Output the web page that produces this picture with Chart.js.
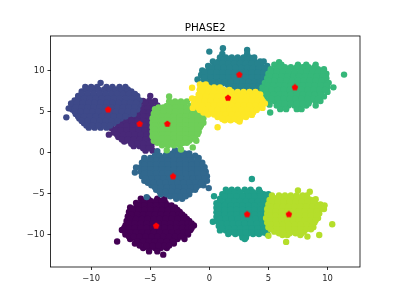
<!DOCTYPE html>
<html><head><meta charset="utf-8">
<style>html,body{margin:0;padding:0;background:#fff}canvas{display:block}</style>
<script src="https://cdn.jsdelivr.net/npm/chart.js@4"></script>
</head><body><canvas id="c" width="400" height="300"></canvas>
<script>
// Each row: [y, x, x, x ...]
const cluster0 = [
[-5.6,-5.8,-5.2,-4.4,-3.8],
[-6.1,-6.2,-5.7,-5.2,-4.7,-4.2,-3.7],
[-6.65,-6.7,-6.2,-5.7,-5.2,-4.7,-4.2,-3.7,-3.2,-2.9],
[-7.2,-6.8,-6.3,-5.8,-5.3,-4.8,-4.3,-3.8,-3.3,-2.8,-2.5],
[-7.75,-6.9,-6.4,-5.9,-5.4,-4.9,-4.4,-3.9,-3.4,-2.9,-2.4,-2.1],
[-8.3,-7.0,-6.5,-6.0,-5.5,-5.0,-4.5,-4.0,-3.5,-3.0,-2.5,-2.0,-1.7],
[-8.85,-7.1,-6.6,-6.1,-5.6,-5.1,-4.6,-4.1,-3.6,-3.1,-2.6,-2.1,-1.6,-1.3],
[-9.4,-7.4,-6.9,-6.4,-5.9,-5.4,-4.9,-4.4,-3.9,-3.4,-2.9,-2.4,-1.9,-1.6],
[-9.95,-7.1,-6.6,-6.1,-5.6,-5.1,-4.6,-4.1,-3.6,-3.1,-2.6,-2.1,-1.8],
[-10.5,-6.7,-6.2,-5.7,-5.2,-4.7,-4.2,-3.7,-3.2,-2.7,-2.1],
[-11.05,-6.3,-5.9,-5.4,-4.9,-4.4,-3.9,-3.4,-3.0],
[-11.6,-5.6,-5.1,-4.6,-4.1,-3.6],
[-12.0,-5.1,-4.4],
[-10.8,-7.8],[-12.4,-3.9],
[-5.85,-5.5,-5.0,-4.5,-4.0],
[-6.4,-6.0,-5.5,-5.0,-4.5,-4.0,-3.5,-3.2],
[-6.95,-6.5,-6.0,-5.5,-5.0,-4.5,-4.0,-3.5,-3.0,-2.7],
[-7.5,-6.6,-6.1,-5.6,-5.1,-4.6,-4.1,-3.6,-3.1,-2.6,-2.3],
[-8.05,-6.7,-6.2,-5.7,-5.2,-4.7,-4.2,-3.7,-3.2,-2.7,-2.2,-1.9],
[-8.6,-6.8,-6.3,-5.8,-5.3,-4.8,-4.3,-3.8,-3.3,-2.8,-2.3,-1.8,-1.5],
[-9.15,-7.2,-6.8,-6.3,-5.8,-5.3,-4.8,-4.3,-3.8,-3.3,-2.8,-2.3,-1.8,-1.5],
[-9.7,-7.1,-6.7,-6.2,-5.7,-5.2,-4.7,-4.2,-3.7,-3.2,-2.7,-2.2,-1.8],
[-10.2,-6.8,-6.4,-5.9,-5.4,-4.9,-4.4,-3.9,-3.4,-2.9,-2.4],
[-10.8,-6.1,-5.6,-5.1,-4.6,-4.1,-3.6,-3.1],
[-11.3,-5.9,-5.3,-4.8,-4.3,-3.8,-3.4]
];
const cluster1 = [
[6.9,-5.0],
[6.3,-5.6,-5.1,-4.6],
[5.75,-5.9,-5.4,-4.9,-4.4],
[5.2,-6.4,-5.9,-5.4,-4.9,-4.4],
[4.65,-6.8,-6.3,-5.8,-5.3,-4.8,-4.3],
[4.1,-7.4,-6.9,-6.4,-5.9,-5.4,-4.9,-4.4],
[3.55,-7.8,-7.3,-6.8,-6.3,-5.8,-5.3,-4.8,-4.3],
[3.0,-8.3,-7.8,-7.3,-6.8,-6.3,-5.8,-5.3,-4.8,-4.3],
[2.45,-8.1,-7.6,-7.1,-6.6,-6.1,-5.6,-5.1,-4.6],
[1.9,-7.7,-7.2,-6.7,-6.2,-5.7,-5.2,-4.7],
[1.35,-7.2,-6.7,-6.2,-5.7,-5.2,-4.7],
[0.8,-6.4,-5.9,-5.4,-4.9],
[0.25,-5.4,-4.8],
[2.2,-8.5],
[6.0,-5.4,-4.9],
[5.45,-5.7,-5.2,-4.7],
[4.9,-6.1,-5.6,-5.1,-4.6],
[4.4,-6.6,-6.1,-5.6,-5.1,-4.6],
[3.85,-7.1,-6.6,-6.1,-5.6,-5.1,-4.6],
[3.3,-7.5,-7.0,-6.5,-6.0,-5.5,-5.0,-4.5],
[2.75,-7.9,-7.5,-7.0,-6.5,-6.0,-5.5,-5.0,-4.5],
[2.2,-7.8,-7.3,-6.8,-6.3,-5.8,-5.3,-4.8],
[1.6,-7.4,-6.9,-6.4,-5.9,-5.4,-4.9],
[1.1,-6.6,-6.1,-5.6,-5.1],
[0.55,-5.6,-5.1]
];
const cluster2 = [
[8.5,-9.2],
[8.0,-10.5,-10.0,-9.5,-8.7,-8.2,-7.6,-7.1],
[7.45,-10.8,-10.3,-9.8,-9.3,-8.8,-8.3,-7.8,-7.3,-6.8,-6.6],
[6.9,-11.1,-10.6,-10.1,-9.6,-9.1,-8.6,-8.1,-7.6,-7.1,-6.6,-6.1],
[6.35,-11.4,-10.9,-10.4,-9.9,-9.4,-8.9,-8.4,-7.9,-7.4,-6.9,-6.4,-5.9],
[5.8,-11.5,-11.0,-10.5,-10.0,-9.5,-9.0,-8.5,-8.0,-7.5,-7.0,-6.5,-6.0],
[5.25,-11.6,-11.1,-10.6,-10.1,-9.6,-9.1,-8.6,-8.1,-7.6,-7.1,-6.6,-6.1],
[4.7,-11.3,-10.8,-10.3,-9.8,-9.3,-8.8,-8.3,-7.8,-7.3,-6.8,-6.4],
[4.15,-11.0,-10.5,-10.0,-9.5,-9.0,-8.5,-8.0,-7.5],
[3.6,-10.6,-10.1,-9.6,-9.1,-8.6,-8.1],
[3.05,-10.2,-9.7,-9.2,-8.7],
[4.3,-12.1],[5.4,-11.9],[6.0,-11.7],
[7.7,-10.4,-9.9,-9.4,-8.9,-8.4,-7.9,-7.4,-6.9],
[7.15,-10.8,-10.3,-9.8,-9.3,-8.8,-8.3,-7.8,-7.3,-6.8,-6.3],
[6.6,-11.1,-10.6,-10.1,-9.6,-9.1,-8.6,-8.1,-7.6,-7.1,-6.6,-6.1],
[6.05,-11.2,-10.7,-10.2,-9.7,-9.2,-8.7,-8.2,-7.7,-7.2,-6.7,-6.2],
[5.5,-11.3,-10.8,-10.3,-9.8,-9.3,-8.8,-8.3,-7.8,-7.3,-6.8,-6.3],
[5.0,-11.4,-10.9,-10.4,-9.9,-9.4,-8.9,-8.4,-7.9,-7.4,-6.9,-6.4],
[4.4,-11.1,-10.6,-10.1,-9.6,-9.1,-8.6,-8.1,-7.6,-7.1],
[3.85,-10.8,-10.3,-9.8,-9.3,-8.8,-8.3,-7.8],
[3.3,-10.4,-9.9,-9.4,-8.9,-8.4]
];
const cluster3 = [
[0.3,-2.9,-2.4],
[-0.1,-3.6,-3.1,-2.6,-2.1,-1.7],
[-0.65,-5.5,-5.0,-4.5,-4.0,-3.5,-3.0,-2.5,-2.0,-1.5,-0.9],
[-1.2,-5.7,-5.2,-4.7,-4.2,-3.7,-3.2,-2.7,-2.2,-1.7,-1.2,-0.6],
[-1.75,-5.8,-5.3,-4.8,-4.3,-3.8,-3.3,-2.8,-2.3,-1.8,-1.3,-0.8,-0.4],
[-2.3,-5.8,-5.3,-4.8,-4.3,-3.8,-3.3,-2.8,-2.3,-1.8,-1.3,-0.8,-0.3],
[-2.85,-5.7,-5.2,-4.7,-4.2,-3.7,-3.2,-2.7,-2.2,-1.7,-1.2,-0.7,-0.2],
[-3.4,-5.5,-5.0,-4.5,-4.0,-3.5,-3.0,-2.5,-2.0,-1.5,-1.0,-0.5,-0.2],
[-3.95,-4.9,-4.4,-3.9,-3.4,-2.9,-2.4,-1.9,-1.4,-0.9,-0.5],
[-4.5,-4.5,-4.0,-3.5,-3.0,-2.5,-2.0,-1.5,-1.2],
[-5.05,-4.1,-3.6,-3.1,-2.6,-2.1,-1.7],
[-5.6,-2.8,-2.3],
[-2.4,-6.3],[-1.8,-6.2],[-5.4,-5.3],[0.2,-4.4],[-4.3,-0.05],
[-0.35,-4.6,-4.2,-3.7,-3.2,-2.7,-2.2,-1.7,-1.2],
[-0.9,-5.5,-5.0,-4.5,-4.0,-3.5,-3.0,-2.5,-2.0,-1.5,-1.0],
[-1.45,-5.5,-5.0,-4.5,-4.0,-3.5,-3.0,-2.5,-2.0,-1.5,-1.0,-0.6],
[-2.0,-5.5,-5.0,-4.5,-4.0,-3.5,-3.0,-2.5,-2.0,-1.5,-1.0,-0.5],
[-2.55,-5.5,-5.0,-4.5,-4.0,-3.5,-3.0,-2.5,-2.0,-1.5,-1.0,-0.5],
[-3.1,-5.4,-4.9,-4.4,-3.9,-3.4,-2.9,-2.4,-1.9,-1.4,-0.9,-0.4],
[-3.65,-5.2,-4.7,-4.2,-3.7,-3.2,-2.7,-2.2,-1.7,-1.2,-0.7],
[-4.2,-4.6,-4.1,-3.6,-3.1,-2.6,-2.1,-1.6,-1.1],
[-4.75,-4.2,-3.7,-3.2,-2.7,-2.2,-1.7],
[-5.3,-3.3,-2.9,-2.4,-2.0]
];
const cluster4 = [
[12.7,1.15],[12.5,3.2],[12.3,0.0],
[12.0,1.1,3.2],
[11.6,0.9,1.4,1.9,2.4,2.9,3.4,3.8],
[11.1,0.3,0.8,1.3,1.8,2.3,2.8,3.3,3.8,4.3,4.6],
[10.55,-0.1,0.4,0.9,1.4,1.9,2.4,2.9,3.4,3.9,4.4,4.9],
[10.0,-0.6,-0.1,0.4,0.9,1.4,1.9,2.4,2.9,3.4,3.9,4.4,4.9,5.3],
[9.45,-0.7,-0.2,0.3,0.8,1.3,1.8,2.3,2.8,3.3,3.8,4.3,4.8,5.3],
[8.9,-1.0,-0.5,0.0,0.5,1.0,1.5,2.0,2.5,3.0,3.5,4.0,4.5,5.0,5.4],
[8.35,0.0,0.5,1.0,1.5,2.0,2.5,3.0,3.5,4.0,4.5,5.0],
[7.8,2.0,2.5,3.0,3.5,4.0,4.5],
[11.35,1.2,1.7,2.2,2.7,3.2,3.7],
[10.85,0.6,1.1,1.6,2.1,2.6,3.1,3.6,4.1],
[10.3,0.2,0.7,1.2,1.7,2.2,2.7,3.2,3.7,4.2,4.7],
[9.75,-0.4,0.1,0.6,1.1,1.6,2.1,2.6,3.1,3.6,4.1,4.6,5.1],
[9.2,-0.4,0.1,0.6,1.1,1.6,2.1,2.6,3.1,3.6,4.1,4.6,5.1],
[8.6,-0.2,0.3,0.8,1.3,1.8,2.3,2.8,3.3,3.8,4.3,4.8],
[8.1,1.7,2.2,2.7,3.2,3.7,4.2,4.7]
];
const cluster5 = [
[-3.2,3.6],[-5.3,0.4],[-8.4,0.3],[-10.5,3.0],
[-4.5,1.4,1.9,2.4,3.0,3.5,4.2],
[-5.05,1.1,1.6,2.1,2.6,3.1,3.6,4.1,4.6,5.0],
[-5.6,0.9,1.4,1.9,2.4,2.9,3.4,3.9,4.4,4.9],
[-6.15,0.6,1.1,1.6,2.1,2.6,3.1,3.6,4.1,4.6,5.1],
[-6.7,0.6,1.1,1.6,2.1,2.6,3.1,3.6,4.1,4.6,5.1],
[-7.25,0.6,1.1,1.6,2.1,2.6,3.1,3.6,4.1,4.6,5.1],
[-7.8,0.6,1.1,1.6,2.1,2.6,3.1,3.6,4.1,4.6,5.1],
[-8.35,0.7,1.2,1.7,2.2,2.7,3.2,3.7,4.2,4.7,5.2],
[-8.9,0.8,1.3,1.8,2.3,2.8,3.3,3.8,4.3,4.8],
[-9.45,0.9,1.4,1.9,2.4,2.9,3.4,3.9,4.4,4.9],
[-9.9,1.6,2.2,2.7,3.2,3.7,4.2,4.9],
[-10.3,2.8,3.1],
[-4.8,1.6,2.1,2.6,3.2,3.7,4.3],
[-5.3,1.3,1.8,2.3,2.8,3.3,3.8,4.3,4.8],
[-5.9,0.9,1.6,2.1,2.6,3.1,3.6,4.1,4.6],
[-6.4,0.8,1.3,1.8,2.3,2.8,3.3,3.8,4.3,4.8],
[-6.95,0.8,1.3,1.8,2.3,2.8,3.3,3.8,4.3,4.8],
[-7.5,0.8,1.3,1.8,2.3,2.8,3.3,3.8,4.3,4.8],
[-8.05,0.9,1.4,1.9,2.4,2.9,3.4,3.9,4.4,4.9],
[-8.6,1.0,1.5,2.0,2.5,3.0,3.5,4.0,4.5,5.0],
[-9.2,1.1,1.6,2.1,2.6,3.1,3.6,4.1,4.6],
[-9.7,1.7,2.1,2.6,3.1,3.6,4.1,4.6]
];
const cluster6 = [
[9.5,11.4],[4.9,5.15],[5.85,5.1],[11.0,5.9],
[10.7,5.5,6.1,7.5,8.2,9.0],
[10.15,5.2,5.7,6.2,6.7,7.2,7.7,8.2,8.7,9.2,9.7],
[9.6,5.0,5.5,6.0,6.5,7.0,7.5,8.0,8.5,9.0,9.5,9.9],
[9.05,4.9,5.4,5.9,6.4,6.9,7.4,7.9,8.4,8.9,9.4,9.9],
[8.5,4.7,5.2,5.7,6.2,6.7,7.2,7.7,8.2,8.7,9.2,9.7,10.1],
[7.95,4.5,5.0,5.5,6.0,6.5,7.0,7.5,8.0,8.5,9.0,9.5,10.0,10.5],
[7.4,4.45,5.0,5.5,6.0,6.5,7.0,7.5,8.0,8.5,9.0,9.5,10.0],
[6.85,4.7,5.2,5.7,6.2,6.7,7.2,7.7,8.2,8.7,9.2,9.7],
[6.3,5.0,5.5,6.0,6.5,7.0,7.5,8.0,8.5,9.0,9.4],
[5.75,5.7,6.2,6.7,7.2,7.7,8.2,9.0],
[5.3,6.0,6.5,7.4,7.8],
[10.4,5.9,6.4,6.9,7.4,7.9,8.4,8.9],
[9.85,5.2,5.7,6.2,6.7,7.2,7.7,8.2,8.7,9.2,9.7],
[9.3,5.1,5.6,6.1,6.6,7.1,7.6,8.1,8.6,9.1,9.6],
[8.75,5.0,5.5,6.0,6.5,7.0,7.5,8.0,8.5,9.0,9.5],
[8.2,4.9,5.4,5.9,6.4,6.9,7.4,7.9,8.4,8.9,9.4,9.9],
[7.65,4.8,5.3,5.8,6.3,6.8,7.3,7.8,8.3,8.8,9.3,9.8],
[7.1,4.9,5.4,5.9,6.4,6.9,7.4,7.9,8.4,8.9,9.4],
[6.55,5.3,5.8,6.3,6.8,7.3,7.8,8.3,8.8,9.2],
[6.0,5.9,6.4,6.9,7.4,7.9,8.4]
];
const cluster7 = [
[6.85,-3.4],
[6.25,-3.4,-2.9,-2.4,-1.9],
[5.7,-3.6,-3.1,-2.6,-2.1,-1.6],
[5.3,-4.6,-4.1,-3.6,-3.1,-2.6,-2.1,-1.6,-1.1],
[4.75,-4.7,-4.2,-3.7,-3.2,-2.7,-2.2,-1.7,-1.2,-0.8],
[4.2,-4.8,-4.3,-3.8,-3.3,-2.8,-2.3,-1.8,-1.3,-0.8,-0.5],
[3.65,-4.8,-4.3,-3.8,-3.3,-2.8,-2.3,-1.8,-1.3,-0.9,-0.5],
[3.1,-4.8,-4.3,-3.8,-3.3,-2.8,-2.3,-1.8,-1.3,-0.8],
[2.55,-4.8,-4.3,-3.8,-3.3,-2.8,-2.3,-1.8,-1.3,-0.9],
[2.0,-4.8,-4.3,-3.8,-3.3,-2.8,-2.3,-1.8,-1.3],
[1.45,-4.7,-4.2,-3.7,-3.2,-2.7,-2.2,-1.7,-1.1],
[0.9,-4.0,-3.5,-3.0,-2.5],
[0.65,-1.4],[0.4,-2.4],[0.3,-3.6],
[6.0,-3.2,-2.7,-2.2],
[5.5,-4.3,-3.9,-3.4,-2.9,-2.4,-1.9,-1.4],
[5.0,-4.5,-3.9,-3.4,-2.9,-2.4,-1.9,-1.4,-1.0],
[4.45,-4.6,-4.0,-3.5,-3.0,-2.5,-2.0,-1.5,-1.0],
[3.9,-4.6,-4.0,-3.5,-3.0,-2.5,-2.0,-1.5,-1.0,-0.7],
[3.35,-4.6,-4.0,-3.5,-3.0,-2.5,-2.0,-1.5,-1.0,-0.7],
[2.8,-4.6,-4.0,-3.5,-3.0,-2.5,-2.0,-1.5,-1.0],
[2.25,-4.6,-4.0,-3.5,-3.0,-2.5,-2.0,-1.5,-1.0],
[1.7,-4.5,-4.0,-3.5,-3.0,-2.5,-2.0,-1.5,-1.2],
[1.2,-4.4,-3.7,-3.2,-2.7,-2.2,-1.9]
];
const cluster8 = [
[-4.6,7.5],[-4.75,8.5],[-5.65,9.0],[-6.4,9.75],[-8.7,10.4],[-10.0,9.3],[-10.2,8.3],[-10.85,6.5],[-10.1,5.0],
[-5.2,5.3,5.9,6.4,6.9,7.4,7.9,8.25],
[-5.75,5.1,5.6,6.1,6.6,7.1,7.6,8.1,8.6],
[-6.3,5.0,5.5,6.0,6.5,7.0,7.5,8.0,8.5,9.0,9.4],
[-6.85,4.9,5.4,5.9,6.4,6.9,7.4,7.9,8.4,8.9,9.4,9.7],
[-7.4,4.9,5.4,5.9,6.4,6.9,7.4,7.9,8.4,8.9,9.3],
[-7.95,4.8,5.3,5.8,6.3,6.8,7.3,7.8,8.3,8.8,9.2],
[-8.5,4.9,5.4,5.9,6.4,6.9,7.4,7.9,8.4,8.9],
[-9.05,5.0,5.5,6.0,6.5,7.0,7.5,8.0,8.5,8.8],
[-9.6,5.5,6.0,6.5,7.0,7.5,8.0],
[-10.0,6.2,6.6,7.7],
[-5.45,5.4,5.9,6.4,6.9,7.4,7.9,8.3],
[-6.0,5.3,5.8,6.3,6.8,7.3,7.8,8.3,8.8],
[-6.55,5.2,5.7,6.2,6.7,7.2,7.7,8.2,8.7,9.2],
[-7.1,5.1,5.6,6.1,6.6,7.1,7.6,8.1,8.6,9.1],
[-7.65,5.1,5.6,6.1,6.6,7.1,7.6,8.1,8.6,9.1],
[-8.2,5.1,5.6,6.1,6.6,7.1,7.6,8.1,8.6,9.0],
[-8.75,5.2,5.7,6.2,6.7,7.2,7.7,8.2,8.7],
[-9.3,5.2,5.7,6.2,6.7,7.2,7.7,8.2,8.6],
[-9.8,5.9,6.3,6.8,7.3,7.8]
];
const cluster9 = [
[7.9,-1.46],[7.7,-0.8],[6.6,-1.46],[3.1,0.7],[4.6,3.6],[3.8,2.56],[5.6,4.45],
[8.3,-0.8,-0.3],
[7.65,-0.8,-0.3,0.2,0.7,1.2,1.7],
[7.1,-0.9,-0.4,0.1,0.6,1.1,1.6,2.1,2.6,3.1,3.6,4.1,4.3],
[6.55,-1.1,-0.6,-0.1,0.4,0.9,1.4,1.9,2.4,2.9,3.4,3.9,4.4],
[6.0,-1.3,-0.8,-0.3,0.2,0.7,1.2,1.7,2.2,2.7,3.2,3.7,4.2,4.7],
[5.45,-1.4,-0.9,-0.4,0.1,0.6,1.1,1.6,2.1,2.6,3.1,3.6,4.1,4.5],
[4.9,-0.5,0.0,0.5,1.0,1.5,2.0,2.5,3.0,3.5,3.7],
[4.35,0.7,1.2,1.7,2.2,2.7,3.1],
[3.95,1.3,1.8,2.4],
[7.95,-0.6,-0.1,0.4,0.9],
[7.4,-0.6,-0.1,0.4,0.9,1.4,1.9,2.4,2.9,3.4,3.9],
[6.85,-0.8,-0.3,0.2,0.7,1.2,1.7,2.2,2.7,3.2,3.7,4.2],
[6.3,-0.9,-0.4,0.1,0.6,1.1,1.6,2.1,2.6,3.1,3.6,4.1,4.5],
[5.75,-1.1,-0.6,-0.1,0.4,0.9,1.4,1.9,2.4,2.9,3.4,3.9,4.4],
[5.2,-0.8,-0.3,0.2,0.7,1.2,1.7,2.2,2.7,3.2,3.7,4.0],
[4.65,-0.1,0.4,0.9,1.4,1.9,2.4,2.9,3.3],
[4.1,1.1,1.6,2.1,2.6]
];
const clusterColors = ['#440154','#482878','#3e4989','#31688e','#26828e','#1f9e89','#35b779','#6ece58','#b5de2b','#fde725'];
const centerX = [-4.5,-5.9,-8.56,-3.07,2.54,3.2,7.24,-3.55,6.73,1.58];
const centerY = [-8.9,3.5,5.24,-2.89,9.48,-7.5,7.94,3.5,-7.5,6.65];
const xTicks = [-10,-5,0,5,10];
const yTicks = [-10,-5,0,5,10];
const chartTitle = 'PHASE2';

const clusters = [cluster0,cluster1,cluster2,cluster3,cluster4,cluster5,cluster6,cluster7,cluster8,cluster9];
const toPoints = rows => rows.flatMap(r => r.slice(1).map(x => ({x, y:r[0]})));

const pent = document.createElement('canvas');
pent.width = pent.height = 8;
(function(){
  const g = pent.getContext('2d');
  g.fillStyle = '#ff0000';
  g.beginPath();
  for (let i=0;i<5;i++){
    const a = -Math.PI/2 + i*2*Math.PI/5;
    const px = 4+3.4*Math.cos(a), py = 4+3.4*Math.sin(a);
    i ? g.lineTo(px,py) : g.moveTo(px,py);
  }
  g.closePath(); g.fill();
})();

const datasets = clusters.map((rows,i)=>({
  data: toPoints(rows),
  backgroundColor: clusterColors[i],
  borderWidth: 0,
  pointRadius: 3.2,
  order: 20-i
}));
datasets.push({
  data: centerX.map((x,i)=>({x,y:centerY[i]})),
  pointStyle: pent,
  pointRadius: 4,
  backgroundColor:'#ff0000',
  order: 0
});

const minus = v => String(v).replace('-','\u2212');
const frame = { id:'frame', afterDatasetsDraw(c){
  const a=c.chartArea, g=c.ctx;
  g.save(); g.strokeStyle='#000'; g.lineWidth=0.8;
  g.strokeRect(a.left,a.top,a.right-a.left,a.bottom-a.top);
  g.restore();
}};
const axis = (ticks,min,max,fit,pad) => ({
  type:'linear', min, max,
  afterBuildTicks: s => { s.ticks = ticks.map(value=>({value})); },
  afterFit: fit,
  grid:{display:true,drawOnChartArea:false,drawTicks:true,tickLength:3,tickColor:'#000',tickWidth:0.8},
  border:{display:false},
  ticks:{autoSkip:false,maxRotation:0,padding:pad,color:'#262626',font:{family:'DejaVu Sans',size:8.4},callback:minus}
});
new Chart(document.getElementById('c'),{
  type:'scatter',
  data:{datasets},
  plugins:[frame],
  options:{
    responsive:false,animation:false,devicePixelRatio:1,
    layout:{padding:{left:0,right:40,top:0,bottom:0}},
    plugins:{
      legend:{display:false},tooltip:{enabled:false},
      title:{display:true,fullSize:false,text:chartTitle,color:'#000',font:{family:'DejaVu Sans',size:10.4,weight:'normal',lineHeight:1.2},padding:{top:22,bottom:1.5}}
    },
    scales:{
      x:axis(xTicks,-13.44,12.75,s=>{s.height=33;},4),
      y:axis(yTicks,-13.9,14.2,s=>{s.width=50.5;},3)
    }
  }
});
</script></body></html>
